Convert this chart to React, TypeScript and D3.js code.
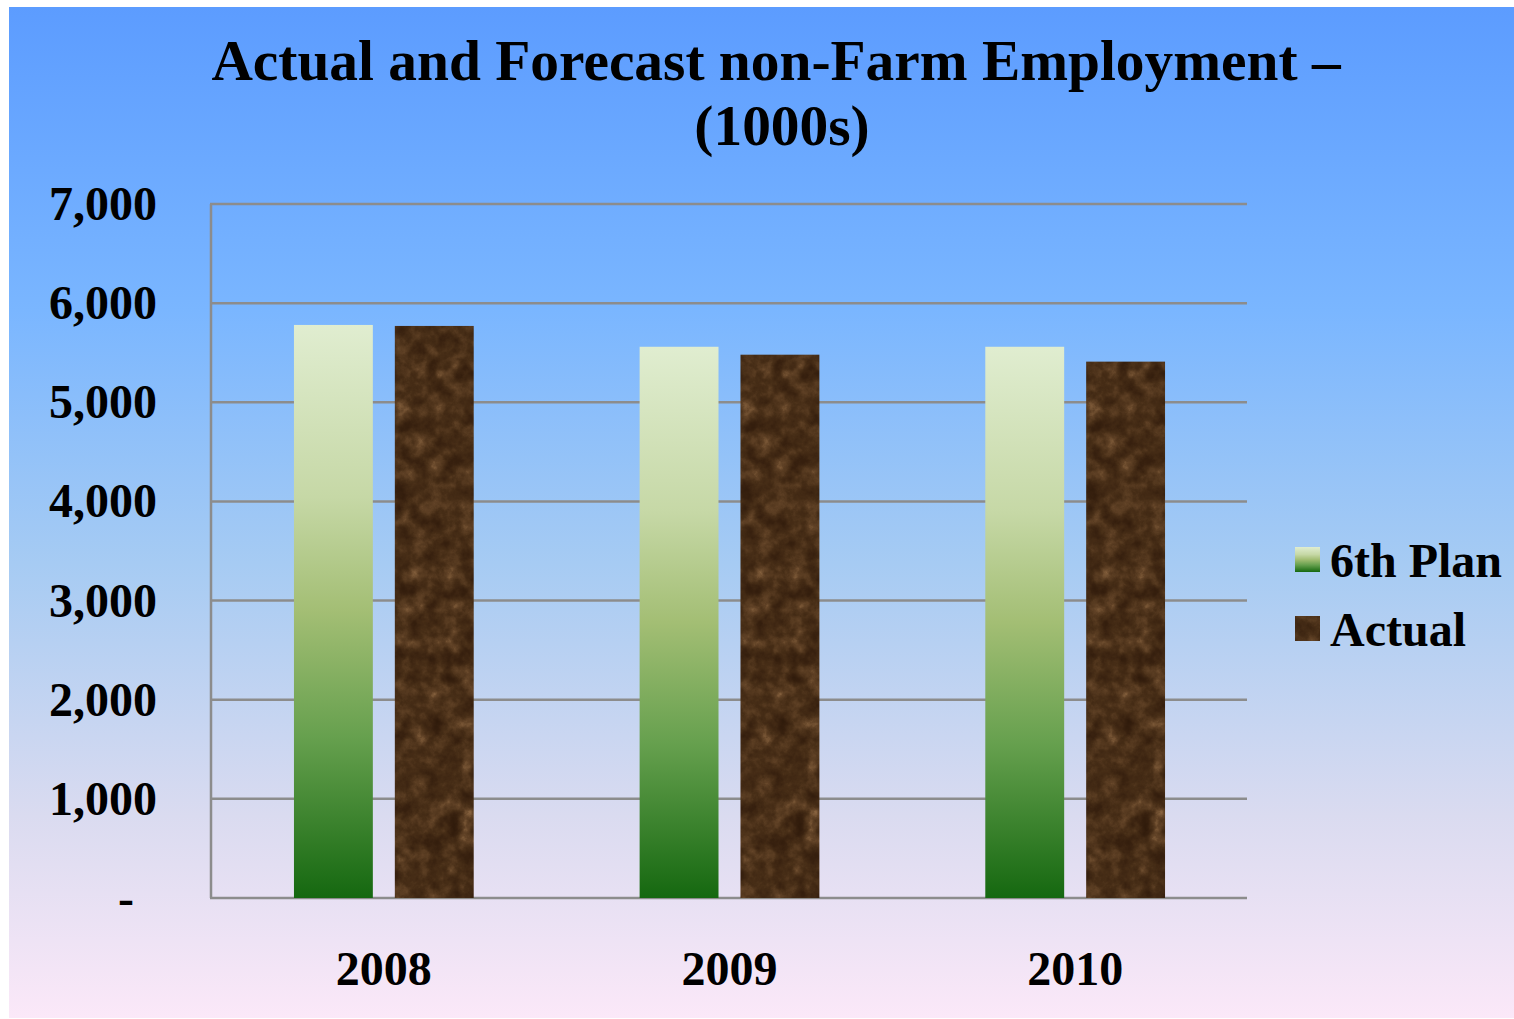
import React from "react";
import * as d3 from "d3";

const years = ["2008", "2009", "2010"];
const seriesNames = ["6th Plan", "Actual"];
const planValues = [5780, 5560, 5560];
const actualValues = [5770, 5480, 5410];
const yTicks = [0, 1000, 2000, 3000, 4000, 5000, 6000, 7000];
const yTickLabels = ["-", "1,000", "2,000", "3,000", "4,000", "5,000", "6,000", "7,000"];
const titleLines = ["Actual and Forecast non-Farm Employment \u2013", "(1000s)"];

const W = 1514;
const H = 1019;
const plot = { left: 210, right: 1247, top: 204, bottom: 898 };
const FONT = "'Liberation Serif', 'Times New Roman', serif";

export default function App() {
  const x0 = d3.scaleBand<string>().domain(years).range([plot.left, plot.right]).padding(0);
  const groupW = x0.bandwidth() * 0.52;
  const x1 = d3.scaleBand<string>().domain(seriesNames).range([0, groupW]).paddingInner(0.218).paddingOuter(0);
  const y = d3.scaleLinear().domain([0, 7000]).range([plot.bottom, plot.top]);

  const data = years.map((yr, i) => ({ year: yr, values: [planValues[i], actualValues[i]] }));
  const fills = ["url(#planGrad)", "#4a2e18"];
  const filters = [undefined, "url(#marble)"];

  return (
    <div style={{ position: "absolute", left: 0, top: 0 }}>
      <svg width={W} height={H} style={{ display: "block" }}>
        <defs>
          <linearGradient id="bgGrad" x1="0" y1="0" x2="0" y2="1">
            <stop offset="0" stopColor="#5c9cff" />
            <stop offset="0.3" stopColor="#7ab6ff" />
            <stop offset="0.55" stopColor="#a6cbf3" />
            <stop offset="0.8" stopColor="#dadbf0" />
            <stop offset="1" stopColor="#fbe8f8" />
          </linearGradient>
          <linearGradient id="planGrad" x1="0" y1="0" x2="0" y2="1">
            <stop offset="0" stopColor="#e0edd0" />
            <stop offset="0.3" stopColor="#c6d8a6" />
            <stop offset="0.5" stopColor="#a3be74" />
            <stop offset="0.72" stopColor="#66a04e" />
            <stop offset="1" stopColor="#156810" />
          </linearGradient>
          <filter
            id="marble"
            filterUnits="userSpaceOnUse"
            x="0"
            y="0"
            width={W}
            height={H}
            colorInterpolationFilters="sRGB"
          >
            <feTurbulence type="fractalNoise" baseFrequency="0.06" numOctaves="5" seed="7" result="n" />
            <feColorMatrix
              in="n"
              type="matrix"
              values="0.6 0.4 0 0 0  0.6 0.4 0 0 0  0.6 0.4 0 0 0  0 0 0 0 1"
              result="g"
            />
            <feComponentTransfer in="g" result="c">
              <feFuncR type="table" tableValues="0.14 0.18 0.22 0.28 0.38 0.58 0.72" />
              <feFuncG type="table" tableValues="0.07 0.1 0.13 0.18 0.26 0.43 0.56" />
              <feFuncB type="table" tableValues="0.03 0.04 0.06 0.09 0.15 0.28 0.38" />
            </feComponentTransfer>
            <feComposite in="c" in2="SourceGraphic" operator="in" />
          </filter>
        </defs>

        <rect x={9} y={7} width={W - 9} height={H - 8} fill="url(#bgGrad)" />

        <g fontFamily={FONT} fontWeight="bold" fill="#000">
          <text x={776} y={80} textAnchor="middle" fontSize={57.4}>
            {titleLines[0]}
          </text>
          <text x={782} y={145} textAnchor="middle" fontSize={57.4}>
            {titleLines[1]}
          </text>
        </g>

        <g>
          {yTicks.map((t) => (
            <line key={t} x1={plot.left} x2={plot.right} y1={y(t)} y2={y(t)} stroke="#8c8c8c" strokeWidth={2.5} />
          ))}
          <line x1={plot.left + 1} x2={plot.left + 1} y1={plot.top} y2={plot.bottom} stroke="#8c8c8c" strokeWidth={2.5} />
        </g>

        <g>
          {data.map((d) => (
            <g key={d.year} transform={`translate(${(x0(d.year) as number) + (x0.bandwidth() - groupW) / 2 + 1},0)`}>
              {d.values.map((v, j) => (
                <rect
                  key={j}
                  x={x1(seriesNames[j]) as number}
                  y={y(v)}
                  width={x1.bandwidth()}
                  height={y(0) - y(v)}
                  fill={fills[j]}
                  filter={filters[j]}
                />
              ))}
            </g>
          ))}
        </g>

        <g fontFamily={FONT} fontWeight="bold" fontSize={48} fill="#000">
          {yTicks.map((t, i) =>
            yTickLabels[i] === "-" ? (
              <text key={t} x={126} y={y(t) + 16} textAnchor="middle">
                {yTickLabels[i]}
              </text>
            ) : (
              <text key={t} x={157} y={y(t) + 16} textAnchor="end">
                {yTickLabels[i]}
              </text>
            )
          )}
          {years.map((yr) => (
            <text key={yr} x={(x0(yr) as number) + x0.bandwidth() / 2 + 1} y={985} textAnchor="middle">
              {yr}
            </text>
          ))}
        </g>

        <g fontFamily={FONT} fontWeight="bold" fontSize={48} fill="#000">
          {seriesNames.map((s, i) => (
            <g key={s} transform={`translate(1295,${547 + i * 69})`}>
              <rect width={25} height={25} fill={fills[i]} filter={filters[i]} />
              <text x={35} y={30}>
                {s}
              </text>
            </g>
          ))}
        </g>
      </svg>
    </div>
  );
}
